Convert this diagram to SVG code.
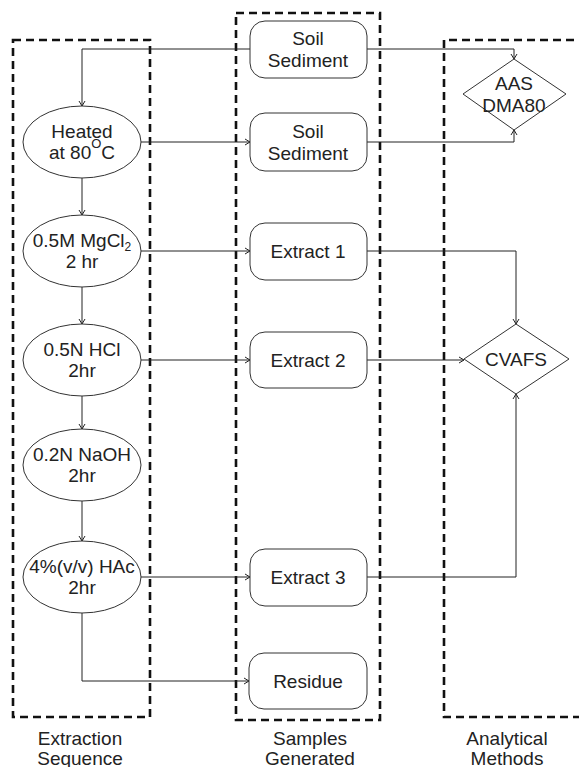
<svg xmlns="http://www.w3.org/2000/svg" width="579" height="767" viewBox="0 0 579 767">
<defs>
<marker id="arr" markerWidth="8" markerHeight="8" refX="6" refY="4" orient="auto" markerUnits="userSpaceOnUse">
<path d="M1,1 L6,4 L1,7" fill="none" stroke="#222" stroke-width="1"/>
</marker>
<style>
.grp{fill:none;stroke:#111;stroke-width:2.6;stroke-dasharray:8,5}
.node{fill:#fff;stroke:#333;stroke-width:1}
.t{font-family:"Liberation Sans",Arial,sans-serif;font-size:19px;fill:#222;text-anchor:middle}
.c{fill:none;stroke:#222;stroke-width:1;marker-end:url(#arr)}
</style>
</defs>
<rect width="579" height="767" fill="#fff"/>
<g id="groups">
<rect class="grp" x="13" y="40" width="137" height="677"/>
<rect class="grp" x="236" y="13" width="144" height="707"/>
<path class="grp" d="M600,40 H444 V717 H600"/>
</g>
<g id="connectors">
<path class="c" d="M250,49 H82 V106"/>
<path class="c" d="M367,49 H514 V59"/>
<path class="c" d="M141,142 H250"/>
<path class="c" d="M367,142 H514 V130"/>
<path class="c" d="M82,178 V215"/>
<path class="c" d="M141,251 H250"/>
<path class="c" d="M367,251 H516 V324"/>
<path class="c" d="M82,287 V324"/>
<path class="c" d="M141,360 H250"/>
<path class="c" d="M367,360 H464"/>
<path class="c" d="M82,396 V429"/>
<path class="c" d="M82,501 V541"/>
<path class="c" d="M141,577 H250"/>
<path class="c" d="M367,577 H516 V394"/>
<path class="c" d="M82,613 V681 H249"/>
</g>
<g id="heated">
<ellipse class="node" cx="82" cy="142" rx="59" ry="36"/>
<text class="t" x="82" y="138">Heated</text>
<text class="t" x="82" y="159">at 80<tspan font-size="13" dy="-11">O</tspan><tspan dy="11">C</tspan></text>
</g>
<g id="mgcl2">
<ellipse class="node" cx="82" cy="251" rx="59" ry="36"/>
<text class="t" x="82" y="247">0.5M MgCl<tspan font-size="12" dy="4">2</tspan></text>
<text class="t" x="82" y="268">2 hr</text>
</g>
<g id="hcl">
<ellipse class="node" cx="82" cy="360" rx="59" ry="36"/>
<text class="t" x="82" y="356">0.5N HCl</text>
<text class="t" x="82" y="377">2hr</text>
</g>
<g id="naoh">
<ellipse class="node" cx="82" cy="465" rx="59" ry="36"/>
<text class="t" x="82" y="461">0.2N NaOH</text>
<text class="t" x="82" y="482">2hr</text>
</g>
<g id="hac">
<ellipse class="node" cx="82" cy="577" rx="59" ry="36"/>
<text class="t" x="82" y="573">4%(v/v) HAc</text>
<text class="t" x="82" y="594">2hr</text>
</g>
<g id="soil1">
<rect class="node" x="250" y="21" width="117" height="57" rx="15"/>
<text class="t" x="308" y="45">Soil</text>
<text class="t" x="308" y="67">Sediment</text>
</g>
<g id="soil2">
<rect class="node" x="250" y="113" width="117" height="58" rx="15"/>
<text class="t" x="308" y="138">Soil</text>
<text class="t" x="308" y="160">Sediment</text>
</g>
<g id="extract1">
<rect class="node" x="250" y="223" width="117" height="57" rx="15"/>
<text class="t" x="308" y="258">Extract 1</text>
</g>
<g id="extract2">
<rect class="node" x="250" y="332" width="117" height="56" rx="15"/>
<text class="t" x="308" y="367">Extract 2</text>
</g>
<g id="extract3">
<rect class="node" x="250" y="549" width="117" height="57" rx="15"/>
<text class="t" x="308" y="584">Extract 3</text>
</g>
<g id="residue">
<rect class="node" x="249" y="653" width="118" height="56" rx="15"/>
<text class="t" x="308" y="688">Residue</text>
</g>
<g id="aas">
<polygon class="node" points="514,59 566,94 514,130 463,94"/>
<text class="t" x="514" y="90">AAS</text>
<text class="t" x="514" y="112">DMA80</text>
</g>
<g id="cvafs">
<polygon class="node" points="516,324 569,359 516,394 464,359"/>
<text class="t" x="516" y="366">CVAFS</text>
</g>
<g id="labels">
<text class="t" x="80" y="745">Extraction</text>
<text class="t" x="80" y="765">Sequence</text>
<text class="t" x="310" y="745">Samples</text>
<text class="t" x="310" y="765">Generated</text>
<text class="t" x="507" y="745">Analytical</text>
<text class="t" x="507" y="765">Methods</text>
</g>
</svg>
